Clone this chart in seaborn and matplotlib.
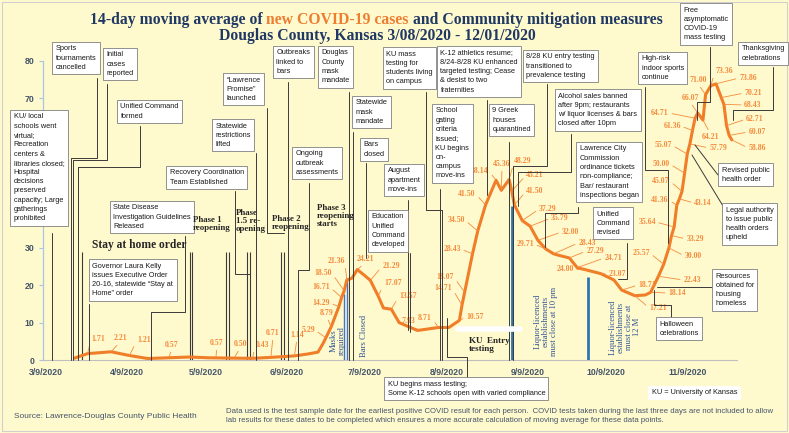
import numpy as np
import pandas as pd
import matplotlib
matplotlib.use('Agg')
import matplotlib.pyplot as plt
import matplotlib.dates as mdates
from matplotlib.lines import Line2D
from matplotlib.patches import Rectangle
import seaborn as sns

# ---- data ----
curve_dates = ['2020-03-20', '2020-03-25', '2020-04-03', '2020-04-10', '2020-04-17', '2020-04-25',
               '2020-05-03', '2020-05-10', '2020-05-20', '2020-05-27', '2020-06-03', '2020-06-12',
               '2020-06-17', '2020-06-21', '2020-06-23', '2020-06-26', '2020-06-29', '2020-06-30',
               '2020-07-01', '2020-07-02', '2020-07-04', '2020-07-06', '2020-07-09', '2020-07-11',
               '2020-07-14', '2020-07-16', '2020-07-19', '2020-07-22', '2020-07-29', '2020-08-06',
               '2020-08-10', '2020-08-14', '2020-08-15', '2020-08-16', '2020-08-19', '2020-08-21',
               '2020-08-24', '2020-08-28', '2020-08-30', '2020-09-02', '2020-09-03', '2020-09-04',
               '2020-09-07', '2020-09-10', '2020-09-13', '2020-09-16', '2020-09-19', '2020-09-21',
               '2020-09-25', '2020-09-28', '2020-10-02', '2020-10-07', '2020-10-12', '2020-10-15',
               '2020-10-20', '2020-10-24', '2020-10-26', '2020-10-29', '2020-10-31', '2020-11-02',
               '2020-11-03', '2020-11-04', '2020-11-05', '2020-11-06', '2020-11-07', '2020-11-08',
               '2020-11-09', '2020-11-10', '2020-11-11', '2020-11-12', '2020-11-13', '2020-11-15',
               '2020-11-16', '2020-11-18', '2020-11-20', '2020-11-22', '2020-11-23', '2020-11-24',
               '2020-11-25', '2020-11-26']
curve_values = [0.5, 1.7, 2.2, 1.2, 0.4, 0.6,
                0.8, 0.6, 0.5, 0.45, 0.7, 1.1,
                1.6, 2.1, 4.5, 8.8, 14.3, 16.7,
                18.5, 21.4, 21.9, 24.2, 22.5, 21.3,
                17.1, 13.9, 13.6, 10.0, 7.9, 8.7,
                8.7, 10.6, 14.7, 18.1, 28.4, 34.5,
                41.5, 48.1, 45.4, 48.3, 45.2, 41.5,
                37.3, 35.8, 32.0, 29.7, 28.4, 28.0,
                27.3, 24.7, 24.0, 23.1, 21.4, 18.7,
                17.2, 17.4, 18.1, 22.4, 25.6, 30.0,
                33.3, 35.6, 41.4, 43.1, 45.1, 50.0,
                55.1, 57.8, 61.4, 64.7, 66.1, 64.2,
                71.0, 73.4, 73.9, 70.2, 68.4, 62.7,
                60.1, 58.9]

label_values = [1.71, 2.21, 1.21, 0.57, 0.57, 0.50, 0.43, 0.71, 1.14, 5.29, 8.79, 14.29, 16.71,
                18.50, 21.36, 24.21, 21.29, 17.07, 13.57, 7.93, 8.71, 10.57, 14.71, 18.07, 28.43,
                34.50, 41.50, 48.14, 45.36, 48.29, 45.21, 41.50, 37.29, 35.79, 32.00, 29.71, 28.43,
                27.29, 24.71, 24.00, 23.07, 18.71, 17.21, 18.14, 22.43, 25.57, 30.00, 33.29, 35.64,
                41.36, 43.14, 45.07, 50.00, 55.07, 57.79, 61.36, 64.21, 64.71, 66.07, 71.00, 73.36,
                73.86, 70.21, 68.43, 62.71, 60.07, 58.86]
label_dates = ['2020-03-25', '2020-04-03', '2020-04-10', '2020-04-25', '2020-05-13', '2020-05-20',
               '2020-05-27', '2020-06-03', '2020-06-12', '2020-06-24', '2020-06-26', '2020-06-29',
               '2020-06-30', '2020-07-01', '2020-07-02', '2020-07-06', '2020-07-11', '2020-07-14',
               '2020-07-19', '2020-07-29', '2020-08-06', '2020-08-14', '2020-08-15', '2020-08-16',
               '2020-08-19', '2020-08-21', '2020-08-24', '2020-08-28', '2020-08-30', '2020-09-02',
               '2020-09-03', '2020-09-04', '2020-09-07', '2020-09-10', '2020-09-13', '2020-09-16',
               '2020-09-19', '2020-09-25', '2020-09-28', '2020-10-02', '2020-10-07', '2020-10-15',
               '2020-10-20', '2020-10-26', '2020-10-29', '2020-10-31', '2020-11-02', '2020-11-03',
               '2020-11-04', '2020-11-05', '2020-11-06', '2020-11-07', '2020-11-08', '2020-11-09',
               '2020-11-10', '2020-11-11', '2020-11-15', '2020-11-12', '2020-11-13', '2020-11-16',
               '2020-11-18', '2020-11-20', '2020-11-22', '2020-11-23', '2020-11-24', '2020-11-25',
               '2020-11-26']

tick_dates = ['2020-03-09', '2020-04-09', '2020-05-09', '2020-06-09', '2020-07-09',
              '2020-08-09', '2020-09-09', '2020-10-09', '2020-11-09']
tick_labels = ['3/9/2020', '4/9/2020', '5/9/2020', '6/9/2020', '7/9/2020',
               '8/9/2020', '9/9/2020', '10/9/2020', '11/9/2020']
y_ticks = [0, 10, 20, 30, 40, 50, 60, 70, 80]
y_tick_labels = ['0', '10', '20', '30', '', '', '', '70', '80']  # 40-60 hidden under a text box

phase_line_dates = ['2020-03-23', '2020-05-03', '2020-05-04', '2020-05-17', '2020-05-18',
                    '2020-05-25', '2020-05-26', '2020-06-07', '2020-06-08']
blue_line_dates = ['2020-07-01', '2020-07-02', '2020-09-03', '2020-10-02']
blue_line_tops = [17.6, 21.9, 41.2, 22.2]

event_texts = [
    'KU/ local\nschools went\nvirtual;\nRecreation\ncenters &\nlibraries closed;\nHospital\ndecisions\npreserved\ncapacity; Large\ngatherings\nprohibited',
    'Sports\ntournaments\ncancelled',
    'Initial\ncases\nreported',
    'Unified Command\nformed',
    'Recovery Coordination\nTeam Established',
    'Statewide\nrestrictions\nlifted',
    '\u201cLawrence\nPromise\u201d\nlaunched',
    'Outbreaks\nlinked to\nbars',
    'Ongoing\noutbreak\nassessments',
    'Douglas\nCounty\nmask\nmandate',
    'Statewide\nmask\nmandate',
    'Bars\nclosed',
    'Education\nUnified\nCommand\ndeveloped',
    'August\napartment\nmove-ins',
    'KU mass\ntesting for\nstudents living\non campus',
    'School\ngating\ncriteria\nissued;\nKU begins\non-\ncampus\nmove-ins',
    'KU begins mass testing;\nSome K-12 schools open with varied compliance',
    'K-12 athletics resume;\n8/24-8/28 KU enhanced\ntargeted testing; Cease\n& desist to two\nfraternities',
    '9 Greek\nhouses\nquarantined',
    '8/28 KU entry testing\ntransitioned to\nprevalence testing',
    'Alcohol sales banned\nafter 9pm; restaurants\nw/ liquor licenses & bars\nclosed after 10pm',
    'Lawrence City\nCommission\nordinance tickets\nnon-compliance;\nBar/ restaurant\ninspections began',
    'Unified\nCommand\nrevised',
    'High-risk\nindoor sports\ncontinue',
    'Free\nasymptomatic\nCOVID-19\nmass testing',
    'Thanksgiving\ncelebrations',
    'Revised public\nhealth order',
    'Legal authority\nto issue public\nhealth orders\nupheld',
    'Resources\nobtained for\nhousing\nhomeless',
    'Halloween\ncelebrations',
    'Governor Laura Kelly\nissues Executive Order\n20-16, statewide \u201cStay at\nHome\u201d order',
    'State Disease\nInvestigation Guidelines\nReleased',
]

# ---- layout (pixels from top-left of a 789x433 canvas) ----
W, H = 789, 433
event_boxes = [(10, 110), (52, 42), (103, 48), (117, 100), (166, 166), (212, 119), (223, 73),
               (273, 46), (292, 147), (318, 46), (352, 96), (360, 138), (368, 210), (384, 164),
               (383, 47), (432, 104), (384, 377), (437, 46), (489, 104), (523, 50), (555, 89),
               (576, 142), (593, 207), (638, 52), (680, 3), (738, 42), (718, 163), (722, 203),
               (712, 269), (656, 317), (89, 259), (110, 201)]
connectors = [
    [(52, 233), (52, 360)],
    [(97, 78), (97, 158), (71, 158), (71, 360)],
    [(107, 84), (107, 160), (73, 160), (73, 360)],
    [(140, 126), (140, 167), (78, 167), (78, 360)],
    [(235, 191), (235, 274), (250, 274)],
    [(256, 153), (256, 360)],
    [(267, 108), (267, 233), (284, 233)],
    [(288, 82), (288, 360)],
    [(309, 183), (309, 270), (298, 270), (298, 360)],
    [(349, 92), (349, 360)],
    [(353, 132), (353, 360)],
    [(366, 163), (366, 258)],
    [(410, 253), (410, 332)],
    [(408, 200), (408, 330)],
    [(426, 92), (426, 210), (442, 210), (442, 360)],
    [(440, 189), (440, 360)],
    [(467, 377), (467, 357), (447, 357), (447, 318)],
    [(487, 100), (487, 195)],
    [(509, 142), (509, 360)],
    [(547, 84), (547, 166), (513, 166), (513, 360)],
    [(571, 134), (571, 172), (518, 172), (518, 206)],
    [(578, 207), (578, 213), (545, 213), (545, 247)],
    [(627, 243), (627, 279), (618, 279)],
    [(645, 87), (645, 170), (668, 170), (668, 243)],
    [(710, 47), (710, 102), (697, 102), (697, 120)],
    [(773, 67), (773, 110), (733, 110), (733, 120)],
    [(718, 175), (695, 145)],
    [(723, 206), (692, 155)],
    [(712, 287), (657, 287)],
    [(671, 317), (671, 305), (654, 305), (654, 290)],
    [(89, 304), (89, 360)],
    [(185, 236), (185, 312), (151, 312), (151, 360)],
]
label_pos = [(98, 339), (120, 338), (144, 340), (172, 345), (217, 343), (240, 344), (262, 345),
             (273, 333), (297, 335), (308, 330), (327, 313), (321, 303), (321, 287), (323, 273),
             (336, 261), (365, 259), (391, 266), (393, 283), (408, 296), (408, 321), (425, 318),
             (475, 317), (443, 288), (445, 277), (452, 249), (456, 220), (467, 194), (480, 171),
             (502, 164), (523, 161), (535, 175), (535, 191), (548, 209), (560, 218), (570, 232),
             (525, 244), (587, 243), (595, 251), (613, 258), (565, 269), (617, 274), (647, 285),
             (658, 308), (677, 293), (692, 280), (641, 253), (693, 256), (695, 239), (647, 222),
             (660, 200), (703, 203), (661, 181), (661, 164), (663, 145), (718, 148), (672, 126),
             (710, 137), (660, 113), (690, 98), (698, 80), (724, 71), (748, 78), (753, 93),
             (753, 105), (755, 119), (757, 132), (757, 148)]


def P(x, y):
    return (x / W, 1 - y / H)


bg = '#FFFACD'
navy = '#1F3864'
orange_line = '#F07D28'
orange_lbl = '#F58A3C'
axis_txt = '#44546A'
blue = '#2E75B6'

sns.set_theme(style='white')
plt.rcParams['font.family'] = ['Liberation Sans', 'DejaVu Sans']

fig = plt.figure(figsize=(W / 100, H / 100), dpi=100, facecolor=bg)
ax = fig.add_axes([43 / W, 1 - 360 / H, (737 - 43) / W, (360 - 61) / H])
ax.set_facecolor('none')

cdates = pd.to_datetime(curve_dates)
sns.lineplot(x=cdates, y=curve_values, ax=ax, color=orange_line, lw=2.2, zorder=6)

ax.set_xlim(pd.Timestamp('2020-03-08'), pd.Timestamp('2020-11-28'))
ax.set_ylim(0, 80)
ax.set_yticks(y_ticks)
ax.set_yticklabels(y_tick_labels)
ax.set_xticks(pd.to_datetime(tick_dates))
ax.set_xticklabels(tick_labels)
ax.set_xlabel('')
ax.set_ylabel('')
for lab in ax.get_xticklabels() + ax.get_yticklabels():
    lab.set_fontweight('bold')
    lab.set_color(axis_txt)
    lab.set_fontsize(6.3)
ax.tick_params(axis='x', length=0, pad=6)
ax.tick_params(axis='y', length=3, width=0.8, color='#A9C4E4', left=True, pad=3)
for s in ['top', 'right']:
    ax.spines[s].set_visible(False)
ax.spines['left'].set_color('#A9C4E4')
ax.spines['left'].set_linewidth(0.9)
ax.spines['bottom'].set_color('#BFBFBF')
ax.spines['bottom'].set_linewidth(0.8)

# phase marker lines and blue policy lines
pdates = pd.to_datetime(phase_line_dates)
ax.vlines(pdates, 0, 29, color='#3A3A3A', lw=0.8, zorder=3)
for d, top in zip(pd.to_datetime(blue_line_dates), blue_line_tops):
    lw = 1.0 if d.month == 7 else 2.0
    col = '#4472C4' if d.month == 7 else blue
    ax.vlines(d, 0, top, color=col, lw=lw, zorder=4)

# data labels with leader lines
fig.canvas.draw()
xnum = mdates.date2num(cdates)
for val, d, (lx, ly) in zip(label_values, label_dates, label_pos):
    tx_num = mdates.date2num(pd.Timestamp(d))
    ty = np.interp(tx_num, xnum, curve_values)
    disp = ax.transData.transform((tx_num, ty))
    px_, py_ = disp[0], H - disp[1]
    dx, dy = px_ - lx, py_ - ly
    if abs(dx) > 9:
        rel = (1, 0.5) if dx > 0 else (0, 0.5)
    else:
        rel = (0.5, 0) if dy > 0 else (0.5, 1)
    ax.annotate(f'{val:.2f}', xy=(tx_num, ty), xycoords='data',
                xytext=P(lx, ly), textcoords='figure fraction',
                ha='center', va='center', fontsize=5.6, fontweight='bold',
                family='Liberation Serif', color=orange_lbl, annotation_clip=False, zorder=7,
                arrowprops=dict(arrowstyle='-', color=orange_lbl, lw=0.6,
                                shrinkA=0, shrinkB=0, relpos=rel))

# connectors and event boxes
for pts in connectors:
    xs = [p[0] / W for p in pts]
    ys = [1 - p[1] / H for p in pts]
    fig.add_artist(Line2D(xs, ys, transform=fig.transFigure, color='#3A3A3A', lw=0.7, zorder=4))

for txt, (bx, by) in zip(event_texts, event_boxes):
    fig.text(*P(bx + 3.5, by + 3.5), txt, ha='left', va='top', fontsize=5.3,
             linespacing=1.45, color='#1a1a1a',
             bbox=dict(boxstyle='square,pad=0.45', fc='white', ec='#7F7F7F', lw=0.6), zorder=5)

# phase labels
serif_b = dict(family='Liberation Serif', fontweight='bold', color='#262626', zorder=5)
fig.text(*P(92, 245), 'Stay at home order', fontsize=8.3, va='center', ha='left', **serif_b)
fig.text(*P(193, 224), 'Phase 1\nreopening', fontsize=6.4, va='center', ha='left', linespacing=1.1, **serif_b)
fig.text(*P(236, 221), 'Phase\n1.5 re-\nopening', fontsize=6.4, va='center', ha='left', linespacing=1.05, **serif_b)
fig.text(*P(272, 223), 'Phase 2\nreopening', fontsize=6.4, va='center', ha='left', linespacing=1.1, **serif_b)
fig.text(*P(317, 216), 'Phase 3\nreopening\nstarts', fontsize=6.4, va='center', ha='left', linespacing=1.05, **serif_b)

# rotated blue notes
blue_txt = dict(family='Liberation Serif', color='#2F5597', rotation=90, ha='center', va='center', zorder=5)
fig.text(*P(338, 341), 'Masks\nrequired', fontsize=6.2, linespacing=1.0, **blue_txt)
fig.text(*P(364, 336), 'Bars Closed', fontsize=6.2, **blue_txt)
fig.text(*P(546, 321), 'Liquor-licenced\nestablishments\nmust close at 10 pm', fontsize=6.2, linespacing=1.05, **blue_txt)
fig.text(*P(625, 327), 'Liquor-licenced\nestablishments\nmust close at\n12 M', fontsize=6.2, linespacing=1.05, **blue_txt)

# KU entry testing arrow
fig.add_artist(Line2D([458 / W, 520 / W], [1 - 329 / H] * 2, transform=fig.transFigure,
                      color='white', lw=4, zorder=4))
ax.annotate('', xy=P(521, 329), xytext=P(457, 329), xycoords='figure fraction',
            textcoords='figure fraction', annotation_clip=False,
            arrowprops=dict(arrowstyle='<|-|>', color='#262626', lw=0.9,
                            mutation_scale=6, shrinkA=0, shrinkB=0))
fig.text(*P(469, 345), 'KU  Entry\ntesting', fontsize=6.6, va='center', ha='left',
         linespacing=1.1, **serif_b)

# KU abbreviation note
fig.text(*P(652, 393), 'KU = University of Kansas', fontsize=5.3, ha='left', va='center',
         color='#1a1a1a', bbox=dict(boxstyle='square,pad=0.5', fc='white', ec='none'), zorder=5)

# footer
fig.text(*P(14, 417), 'Source: Lawrence-Douglas County Public Health', fontsize=6.0,
         ha='left', va='center', color=axis_txt)
fig.text(*P(226, 416), 'Data used is the test sample date for the earliest positive COVID result for each person.  '
         'COVID tests taken during the last three days are not included to allow\n'
         'lab results for these dates to be completed which ensures a more accurate calculation of '
         'moving average for these data points.', fontsize=5.6, ha='left', va='center',
         linespacing=1.3, color=axis_txt)

# title with coloured middle part
title_parts = [('14-day moving average of ', navy), ('new COVID-19 cases', '#ED7D31'),
               (' and Community mitigation measures', navy)]
tfont = dict(family='Liberation Serif', fontweight='bold', fontsize=11.3, va='baseline', ha='left')
renderer = fig.canvas.get_renderer()
objs = [fig.text(0, 1 - 24 / H, s, color=c, **tfont) for s, c in title_parts]
widths = [o.get_window_extent(renderer).width for o in objs]
x = 376 - sum(widths) / 2
for o, w in zip(objs, widths):
    o.set_x(x / W)
    x += w
fig.text(*P(377, 40), 'Douglas County, Kansas 3/08/2020 - 12/01/2020', color=navy,
         family='Liberation Serif', fontweight='bold', fontsize=11.3, ha='center', va='baseline')

fig.add_artist(Rectangle((2 / W, 2 / H), (W - 4) / W, (H - 4) / H, transform=fig.transFigure,
                         fill=False, ec='#D0D0D0', lw=0.8, zorder=0))

fig.savefig('out.png', dpi=100, facecolor=bg)
